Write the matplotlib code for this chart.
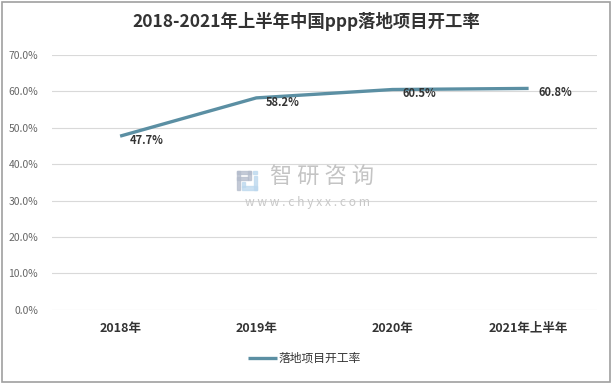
import matplotlib
matplotlib.use("Agg")
import matplotlib.pyplot as plt
from matplotlib.patches import Rectangle
from matplotlib.ticker import PercentFormatter

plt.rcParams['font.family'] = ['Noto Sans CJK SC', 'DejaVu Sans']

# data
years = ['2018年', '2019年', '2020年', '2021年上半年']
rates = [47.7, 58.2, 60.5, 60.8]
labels = ['47.7%', '58.2%', '60.5%', '60.8%']
series_name = '落地项目开工率'
line_color = '#5B8FA3'

W, H = 612, 384
fig = plt.figure(figsize=(W / 100, H / 100), dpi=100)
ax = fig.add_axes([0.085, 0.193, 0.89, 0.664])

x = list(range(len(years)))
ax.plot(x, rates, color=line_color, linewidth=2.4, label=series_name,
        solid_capstyle='butt', zorder=3)

for xi, yi, lab in zip(x, rates, labels):
    ax.annotate(lab, (xi, yi), xytext=(7, -3), textcoords='offset points',
                ha='left', va='center', fontsize=8, fontweight='bold',
                color='#333333', zorder=4)

ax.set_xlim(-0.5, len(years) - 0.5)
ax.set_ylim(0, 70)
ax.set_yticks(range(0, 71, 10))
ax.yaxis.set_major_formatter(PercentFormatter(decimals=1))
ax.set_xticks(x)
ax.set_xticklabels(years, fontsize=9, fontweight='bold', color='#333333')
ax.tick_params(axis='y', labelsize=7.5, labelcolor='#666666', length=0, pad=10)
ax.tick_params(axis='x', length=0, pad=9)
ax.grid(axis='y', color='#D9D9D9', linewidth=0.8)
ax.set_axisbelow(True)
for s in ax.spines.values():
    s.set_visible(False)

fig.text(0.5, 0.943, '2018-2021年上半年中国ppp落地项目开工率', ha='center', va='center',
         fontsize=12.5, fontweight='bold', color='#333333')

# watermark (logo drawn from small blocks, in pixel coordinates)
def px_rect(x0, y0, w, h, color):
    fig.patches.append(Rectangle((x0 / W, 1 - (y0 + h) / H), w / W, h / H,
                                 transform=fig.transFigure, color=color,
                                 alpha=0.75, zorder=0))

gray = '#B4BCCC'
blue = '#BCD8EE'
px_rect(237, 171, 14, 3, gray)
px_rect(248, 171, 3, 9, gray)
px_rect(237, 177, 11, 3, gray)
px_rect(237, 171, 3, 19, gray)
px_rect(253, 171, 4, 3, blue)
px_rect(254, 176, 3, 14, blue)
px_rect(242, 186, 15, 4, blue)
px_rect(242, 182, 3, 5, blue)

fig.text(0.526, 0.537, '智 研 咨 询', fontsize=16, color='#C4C4C4', ha='center', va='center')
fig.text(0.502, 0.472, 'w w w . c h y x x . c o m', fontsize=8.7, color='#C8C8C8',
         ha='center', va='center')

leg = ax.legend(loc='center', bbox_to_anchor=(0.464, -0.19), frameon=False,
                fontsize=8.5, handlelength=2.4, handletextpad=0.2)
for t in leg.get_texts():
    t.set_color('#333333')

fig.patches.append(Rectangle((0.003, 0.004), 0.994, 0.992, transform=fig.transFigure,
                             fill=False, edgecolor='#A0A0A0', linewidth=1.2))

fig.savefig('out.png', dpi=100)
